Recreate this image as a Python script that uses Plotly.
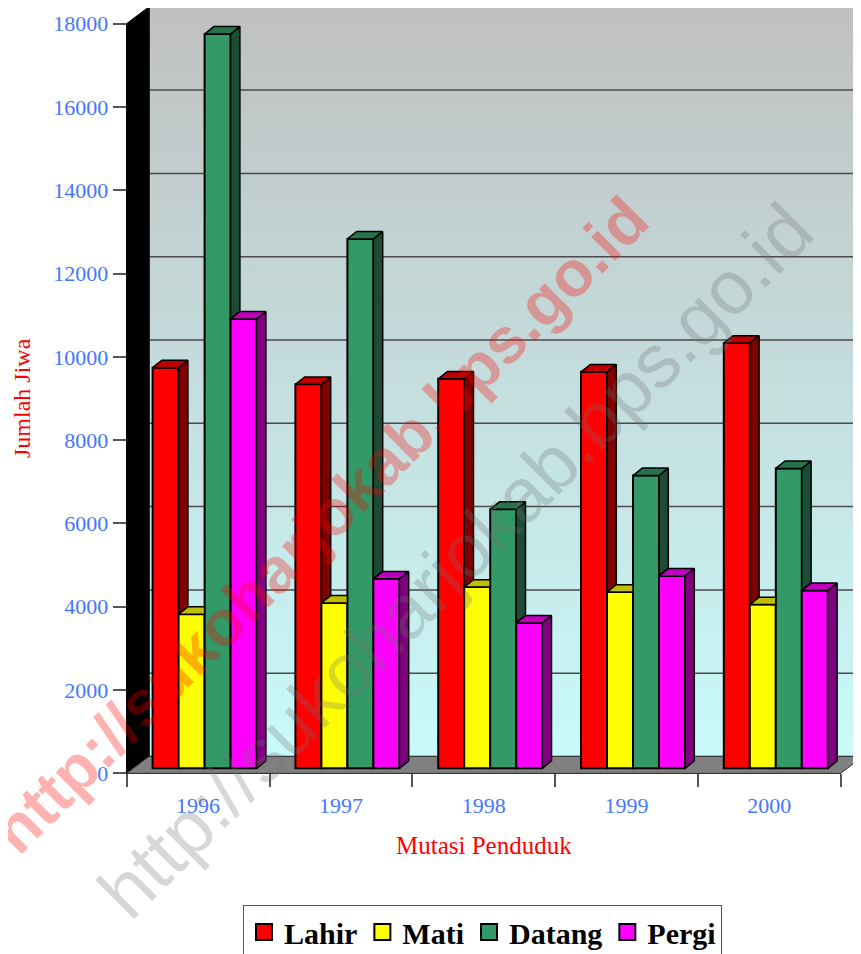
import plotly.graph_objects as go

# ---------------- data ----------------
years = ["1996", "1997", "1998", "1999", "2000"]
series_names = ["Lahir", "Mati", "Datang", "Pergi"]
lahir = [9620, 9220, 9350, 9520, 10210]
mati = [3700, 3970, 4350, 4230, 3930]
datang = [17630, 12710, 6220, 7030, 7200]
pergi = [10790, 4550, 3490, 4620, 4270]
y_ticks = [0, 2000, 4000, 6000, 8000, 10000, 12000, 14000, 16000, 18000]

series_values = [lahir, mati, datang, pergi]
front_colors = ["#FF0000", "#FFFF00", "#339966", "#FF00FF"]
top_colors = ["#BF0000", "#BFBF00", "#26734C", "#BF00BF"]
side_colors = ["#800000", "#808000", "#1A4D33", "#800080"]

# ---------------- geometry (pixels) ----------------
WIN_W, WIN_H = 861, 954
OFF = 8                       # page body margin
W, H = WIN_W, WIN_H - OFF


def fx(p):
    return p - OFF


def fy(p):
    return p - OFF


PX_L, PX_R = fx(126.7), fx(840.7)     # front plane x extent
PY_0, PY_TOP = fy(773.3), fy(23.6)    # front plane y of 0 and of max tick
y_max = y_ticks[-1]
n_cat = len(years)
kx = n_cat / (PX_R - PX_L)     # data units per px (x)
ky = y_max / (PY_0 - PY_TOP)   # data units per px (y)

BACK = (22.3 * kx, 16.8 * ky)      # depth of the chart box
BARPLANE = (6.5 * kx, 5.0 * ky)    # position of bar front faces
BARDEPTH = (9.3 * kx, 7.4 * ky)    # depth of each bar
BAR_W = 26.0 * kx

x_world = [-0.5 - PX_L * kx, -0.5 + (W - PX_L) * kx]
y_world = [-(H - PY_0) * ky, PY_0 * ky]

FONT = "Liberation Serif"
BLUE = "#4477FF"

fig = go.Figure()

# ---------------- chart box: floor, walls, gridlines (x2/y2) ----------------
x0, x1 = -0.5, n_cat - 0.5
bdx, bdy = BACK
fig.add_trace(go.Scatter(
    x=[x0 + bdx, x1 + bdx, x1 + bdx, x0 + bdx, x0 + bdx],
    y=[bdy, bdy, y_max + bdy, y_max + bdy, bdy],
    mode="lines", fill="toself",
    fillgradient=dict(type="vertical",
                      colorscale=[[0, "#C9FAFA"], [1, "#C0C0C0"]],
                      start=bdy, stop=y_max + bdy),
    line=dict(color="#222222", width=1.5),
    xaxis="x2", yaxis="y2", hoverinfo="skip", showlegend=False))
gx, gy = [], []
for t in y_ticks[1:-1]:
    gx += [x0 + bdx, x1 + bdx, None]
    gy += [t + bdy, t + bdy, None]
fig.add_trace(go.Scatter(x=gx, y=gy, mode="lines",
                         line=dict(color="#4A4A4A", width=1.5),
                         xaxis="x2", yaxis="y2", hoverinfo="skip", showlegend=False))
fig.add_trace(go.Scatter(
    x=[x0, x0, x0 + bdx, x0 + bdx, x0],
    y=[0, y_max, y_max + bdy, bdy, 0],
    mode="lines", fill="toself", fillcolor="#000000",
    line=dict(color="#000000", width=1),
    xaxis="x2", yaxis="y2", hoverinfo="skip", showlegend=False))
fig.add_trace(go.Scatter(
    x=[x0, x1, x1 + bdx, x0 + bdx, x0],
    y=[0, 0, bdy, bdy, 0],
    mode="lines", fill="toself", fillcolor="#808080",
    line=dict(color="#333333", width=1),
    xaxis="x2", yaxis="y2", hoverinfo="skip", showlegend=False))

# ---------------- bars (x3/y3 overlay) ----------------
sx, sy = BARPLANE
ddx, ddy = BARDEPTH
cat_pos = list(range(n_cat))
for i, (name, vals) in enumerate(zip(series_names, series_values)):
    off = (-2 + i) * BAR_W + sx
    fig.add_trace(go.Bar(
        x=cat_pos, y=vals, base=sy, offset=off, width=BAR_W,
        marker=dict(color=front_colors[i], line=dict(color="#000000", width=2)),
        xaxis="x3", yaxis="y3", name=name, showlegend=False, hoverinfo="skip"))

for i, (name, vals) in enumerate(zip(series_names, series_values)):
    off = (-2 + i) * BAR_W + sx
    side_x, side_y, top_x, top_y = [], [], [], []
    for g in cat_pos:
        xl = g + off
        xr = xl + BAR_W
        top = sy + vals[g]
        nxt = sy + series_values[i + 1][g] if i + 1 < len(series_values) else sy
        if top > nxt:
            side_x += [xr, xr + ddx, xr + ddx, xr, xr, None]
            side_y += [nxt, nxt + ddy, top + ddy, top, nxt, None]
            top_x += [xl, xr, xr + ddx, xl + ddx, xl, None]
            top_y += [top, top, top + ddy, top + ddy, top, None]
        else:
            top_x += [xl, xr, xr, xl + ddx, xl, None]
            top_y += [top, top, top + ddy, top + ddy, top, None]
    if side_x:
        fig.add_trace(go.Scatter(
            x=side_x, y=side_y, mode="lines", fill="toself",
            fillcolor=side_colors[i], line=dict(color="#000000", width=1.5),
            xaxis="x3", yaxis="y3", hoverinfo="skip", showlegend=False))
    fig.add_trace(go.Scatter(
        x=top_x, y=top_y, mode="lines", fill="toself",
        fillcolor=top_colors[i], line=dict(color="#000000", width=1.5),
        xaxis="x3", yaxis="y3", hoverinfo="skip", showlegend=False))

# ---------------- legend proxies on front axes ----------------
for i, name in enumerate(series_names):
    fig.add_trace(go.Scatter(
        x=years, y=[None] * n_cat, mode="markers", name=name,
        marker=dict(symbol="square", size=16, color=front_colors[i],
                    line=dict(color="#000000", width=2)),
        xaxis="x", yaxis="y", hoverinfo="skip", showlegend=True))

# ---------------- layout ----------------
dom_x = [PX_L / W, PX_R / W]
dom_y = [1 - PY_0 / H, 1 - PY_TOP / H]
tickfont = dict(family=FONT, size=22, color=BLUE)


def px_paper(xp, yp):
    return fx(xp) / W, 1 - fy(yp) / H


ax_t = px_paper(22, 398)
ax_b = px_paper(483.5, 845)
wm1 = px_paper(320, 525)
wm2 = px_paper(455, 560)
leg = px_paper(482.5, 905)

fig.update_layout(
    width=W, height=H,
    margin=dict(l=0, r=0, t=0, b=0, autoexpand=False),
    paper_bgcolor="#FFFFFF", plot_bgcolor="rgba(0,0,0,0)",
    barmode="overlay",
    showlegend=True,
    xaxis=dict(domain=dom_x, anchor="y", type="category",
               categoryorder="array", categoryarray=years,
               range=[-0.5, n_cat - 0.5], tickson="boundaries",
               ticks="outside", ticklen=13, tickwidth=1.5, tickcolor="#555555",
               ticklabelstandoff=12,
               showline=True, linecolor="#444444", linewidth=1,
               showgrid=False, zeroline=False, tickfont=tickfont, fixedrange=True),
    yaxis=dict(domain=dom_y, anchor="x", range=[0, y_max],
               tickmode="array", tickvals=y_ticks,
               ticktext=[str(t) for t in y_ticks],
               ticks="outside", ticklen=13, tickwidth=1.5, tickcolor="#555555",
               showline=True, linecolor="#000000", linewidth=1,
               showgrid=False, zeroline=False, tickfont=tickfont, fixedrange=True),
    xaxis2=dict(domain=[0, 1], anchor="y2", range=x_world, visible=False, fixedrange=True),
    yaxis2=dict(domain=[0, 1], anchor="x2", range=y_world, visible=False, fixedrange=True),
    xaxis3=dict(overlaying="x2", anchor="y3", range=x_world, visible=False, fixedrange=True),
    yaxis3=dict(overlaying="y2", anchor="x3", range=y_world, visible=False, fixedrange=True),
    legend=dict(orientation="h", x=leg[0], xanchor="center",
                y=leg[1], yanchor="top",
                font=dict(family=FONT, size=30, color="#000000", weight="bold"),
                bgcolor="#FFFFFF", bordercolor="#555555", borderwidth=1,
                itemclick=False, itemdoubleclick=False),
    annotations=[
        dict(text="Jumlah Jiwa", xref="paper", yref="paper",
             x=ax_t[0], y=ax_t[1], xanchor="center", yanchor="middle",
             textangle=-90, showarrow=False, borderpad=0,
             font=dict(family=FONT, size=24, color="#FF0000")),
        dict(text="Mutasi Penduduk", xref="paper", yref="paper",
             x=ax_b[0], y=ax_b[1], xanchor="center", yanchor="middle",
             showarrow=False,
             font=dict(family=FONT, size=25, color="#FF0000")),
        dict(text="http://sukoharjokab.bps.go.id", xref="paper", yref="paper",
             x=wm1[0], y=wm1[1], xanchor="center", yanchor="middle",
             textangle=-45, showarrow=False,
             font=dict(family="Liberation Sans", size=64, color="rgba(255,0,0,0.3)",
                       weight="bold")),
        dict(text="http://sukoharjokab.bps.go.id", xref="paper", yref="paper",
             x=wm2[0], y=wm2[1], xanchor="center", yanchor="middle",
             textangle=-45, showarrow=False,
             font=dict(family="Liberation Sans", size=76, color="rgba(110,110,110,0.28)")),
    ],
)

fig.write_html("out.html")
